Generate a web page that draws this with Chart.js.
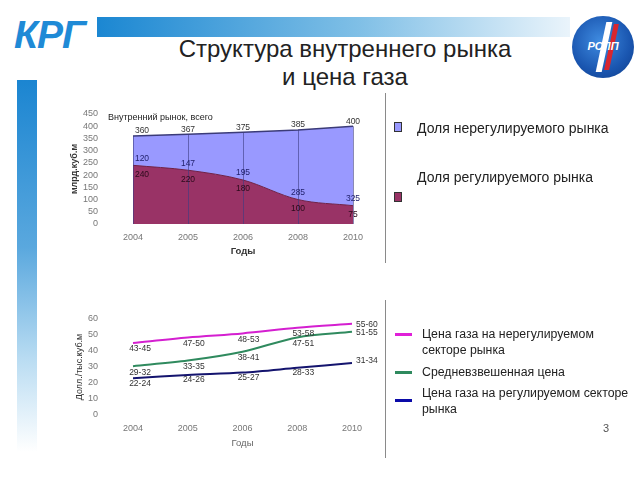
<!DOCTYPE html>
<html>
<head>
<meta charset="utf-8">
<script src="https://cdn.jsdelivr.net/npm/chart.js@4"></script>
<style>
  body { margin:0; background:#fff; font-family:"Liberation Sans", Arial, sans-serif; }
  #page { position:relative; width:640px; height:480px; overflow:hidden; background:#fff; }
  .abs { position:absolute; }
  #logo-text { left:14px; top:13px; font-size:39px; font-weight:bold; font-style:italic; color:#1f8ad6; letter-spacing:-1px; }
  #top-bar { left:97px; top:17px; width:473px; height:20px; background:linear-gradient(to right,#1b87d2,#7fbfe6 55%,#eaf4fb); }
  #side-bar { left:17px; top:80px; width:20px; height:372px; background:linear-gradient(to bottom,#1b85d1,#5aa8de 45%,#b9dcf2 75%,#ffffff); }
  #title { left:120px; top:35px; width:450px; text-align:center; font-size:24px; line-height:28px; color:#222; }
  #rspp { left:572px; top:16px; width:62px; height:62px; border-radius:50%; background:radial-gradient(circle at 45% 40%,#3f8be0,#1a56b0 60%,#0d3a86); overflow:hidden; }
  #rspp .slash-w { position:absolute; left:29px; top:6px; width:6px; height:50px; background:#fff; transform:skewX(-12deg); }
  #rspp .slash-r { position:absolute; left:37px; top:8px; width:5px; height:46px; background:#d9262e; transform:skewX(-12deg); }
  #rspp .txt { position:absolute; left:0; top:24px; width:62px; text-align:center; color:#fff; font-weight:bold; font-style:italic; font-size:11px; }
  .divider { width:1px; background:#8a8a8a; left:385px; }
  .sq { width:6px; height:8px; border:1px solid #333; }
  .lg { font-size:14px; color:#222; white-space:nowrap; }
  .lg2 { font-size:12.3px; color:#222; white-space:nowrap; line-height:16px; }
  .ln { width:17px; height:3px; }
  #sub { left:108px; top:112px; font-size:9px; color:#222; }
  #pagenum { left:603px; top:422px; font-size:11px; color:#555; }
  canvas { position:absolute; }
</style>
</head>
<body>
<div id="page">
  <div id="logo-text" class="abs">КРГ</div>
  <div id="top-bar" class="abs"></div>
  <div id="side-bar" class="abs"></div>
  <div id="title" class="abs">Структура внутреннего рынка<br>и цена газа</div>
  <div id="rspp" class="abs"><div class="slash-w"></div><div class="slash-r"></div><div class="txt">РСПП</div></div>

  <canvas id="volumeChart" width="310" height="160" style="left:60px;top:100px"></canvas>
  <div id="sub" class="abs">Внутренний рынок, всего</div>
  <canvas id="priceChart" width="340" height="150" style="left:60px;top:300px"></canvas>

  <div class="abs divider" style="top:93px;height:170px"></div>
  <div class="abs divider" style="top:300px;height:158px"></div>

  <div class="abs sq" style="left:394px;top:122px;background:#9999ff"></div>
  <div class="abs lg" style="left:417px;top:120px">Доля нерегулируемого рынка</div>
  <div class="abs lg" style="left:417px;top:169px">Доля регулируемого рынка</div>
  <div class="abs sq" style="left:394px;top:192px;background:#993366"></div>

  <div class="abs ln" style="left:395px;top:333px;background:#e020d8"></div>
  <div class="abs lg2" style="left:422px;top:326px">Цена газа на нерегулируемом<br>секторе рынка</div>
  <div class="abs ln" style="left:395px;top:371px;background:#2f8a5e"></div>
  <div class="abs lg2" style="left:422px;top:364px">Средневзвешенная цена</div>
  <div class="abs ln" style="left:395px;top:399px;background:#0a0aa8"></div>
  <div class="abs lg2" style="left:422px;top:385px">Цена газа на регулируемом секторе<br>рынка</div>

  <div id="pagenum" class="abs">3</div>
</div>
<script>
// data
const years = ['2004', '2005', '2006', '2008', '2010'];
const regulatedVolume = [240, 220, 180, 100, 75];
const unregulatedVolume = [120, 147, 195, 285, 325];
const totalVolume = [360, 367, 375, 385, 400];

const unregulatedPrice = [45, 48.5, 51, 54.5, 57];
const averagePrice = [30.5, 34, 39.5, 48.5, 52];
const regulatedPrice = [23, 25, 26.5, 29.5, 32.5];
const unregulatedPriceLabels = ['43-45', '47-50', '48-53', '53-58', '55-60'];
const averagePriceLabels = ['29-32', '33-35', '38-41', '47-51', '51-55'];
const regulatedPriceLabels = ['22-24', '24-26', '25-27', '28-33', '31-34'];

const FONT = '"Liberation Sans", Arial, sans-serif';
Chart.defaults.font.family = FONT;

// writes small value labels next to the points of a dataset
const pointLabels = {
    id: 'pointLabels',
    afterDatasetsDraw(chart, args, opts) {
        const ctx = chart.ctx;
        ctx.save();
        ctx.font = (opts.size || 8) + 'px ' + FONT;
        ctx.textBaseline = 'middle';
        (opts.sets || []).forEach(set => {
            const meta = chart.getDatasetMeta(set.dataset);
            meta.data.forEach((pt, j) => {
                const last = j === meta.data.length - 1;
                let dx = set.dx, dy = set.dy;
                ctx.textAlign = 'center';
                if (j === 0 && set.firstDx !== undefined) dx = set.firstDx;
                if (last && set.lastRight) { ctx.textAlign = 'left'; dx = 4; dy = set.lastDy; }
                ctx.fillStyle = set.color;
                ctx.fillText(set.values[j], pt.x + dx, pt.y + dy);
            });
        });
        ctx.restore();
    }
};

// vertical lines through the area, from the total line down to the axis
const dropLines = {
    id: 'dropLines',
    afterDatasetsDraw(chart, args, opts) {
        if (opts.dataset === undefined) return;
        const ctx = chart.ctx;
        const meta = chart.getDatasetMeta(opts.dataset);
        const bottom = chart.scales.y.getPixelForValue(0);
        ctx.save();
        ctx.strokeStyle = opts.color;
        ctx.lineWidth = 1;
        meta.data.forEach(pt => {
            ctx.beginPath();
            ctx.moveTo(Math.round(pt.x) + 0.5, pt.y);
            ctx.lineTo(Math.round(pt.x) + 0.5, bottom);
            ctx.stroke();
        });
        ctx.restore();
    }
};

// fixed axis boxes, and no extra room asked for by the tick padding
function fixX(h) {
    return s => { s.height = h; s.paddingLeft = 0; s.paddingRight = 0; };
}
function fixY(w) {
    return s => { s.width = w; s.paddingTop = 0; s.paddingBottom = 0; };
}

new Chart(document.getElementById('volumeChart'), {
    type: 'line',
    data: {
        labels: years,
        datasets: [
            {
                label: 'Доля регулируемого рынка',
                data: regulatedVolume,
                fill: 'origin',
                backgroundColor: '#993366',
                borderColor: '#6e2249',
                borderWidth: 1,
                cubicInterpolationMode: 'monotone',
                pointRadius: 0
            },
            {
                label: 'Доля нерегулируемого рынка',
                data: unregulatedVolume,
                fill: '-1',
                backgroundColor: '#9999ff',
                borderColor: '#3b3b78',
                borderWidth: 1.5,
                pointRadius: 0
            }
        ]
    },
    options: {
        responsive: false,
        animation: false,
        devicePixelRatio: 1,
        layout: { padding: { top: 14, right: 17, left: 0, bottom: 0 } },
        plugins: {
            legend: { display: false },
            tooltip: { enabled: false },
            dropLines: { dataset: 1, color: 'rgba(60,60,130,0.6)' },
            pointLabels: {
                size: 8.5,
                sets: [
                    { dataset: 1, values: totalVolume, dx: 0, firstDx: 9, dy: -5, color: '#333' },
                    { dataset: 0, values: unregulatedVolume, dx: 0, firstDx: 9, dy: -7, color: '#22226e' },
                    { dataset: 0, values: regulatedVolume, dx: 0, firstDx: 9, dy: 9, color: '#2a0a1a' }
                ]
            }
        },
        scales: {
            x: {
                grid: { display: false, drawTicks: false },
                border: { display: false },
                ticks: { color: '#777', font: { size: 9 }, padding: 8, maxRotation: 0 },
                title: { display: true, text: 'Годы', color: '#333', font: { size: 9.5, weight: 'bold' }, padding: { top: 0, bottom: 3 } },
                afterFit: fixX(36)
            },
            y: {
                stacked: true,
                min: 0,
                max: 450,
                grid: { display: false, drawTicks: false },
                border: { display: false },
                ticks: { stepSize: 50, autoSkip: false, color: '#777', font: { size: 9 }, padding: 35 },
                title: { display: true, text: 'млрд.куб.м', color: '#333', font: { size: 9, weight: 'bold' }, padding: { top: 9, bottom: 0 } },
                afterFit: fixY(73)
            }
        }
    },
    plugins: [dropLines, pointLabels]
});

new Chart(document.getElementById('priceChart'), {
    type: 'line',
    data: {
        labels: years,
        datasets: [
            {
                label: 'Цена газа на нерегулируемом секторе рынка',
                data: unregulatedPrice,
                borderColor: '#d41fd0',
                borderWidth: 2,
                tension: 0.3,
                pointRadius: 0
            },
            {
                label: 'Средневзвешенная цена',
                data: averagePrice,
                borderColor: '#2f8a5e',
                borderWidth: 2,
                tension: 0.3,
                pointRadius: 0
            },
            {
                label: 'Цена газа на регулируемом секторе рынка',
                data: regulatedPrice,
                borderColor: '#14146e',
                borderWidth: 2,
                tension: 0.3,
                pointRadius: 0
            }
        ]
    },
    options: {
        responsive: false,
        animation: false,
        devicePixelRatio: 1,
        layout: { padding: { top: 19, right: 48, left: 0, bottom: 0 } },
        plugins: {
            legend: { display: false },
            tooltip: { enabled: false },
            pointLabels: {
                size: 8.5,
                sets: [
                    { dataset: 0, values: unregulatedPriceLabels, dx: 6, firstDx: 7, dy: 6, lastRight: true, lastDy: 1, color: '#333' },
                    { dataset: 1, values: averagePriceLabels, dx: 6, firstDx: 7, dy: 6, lastRight: true, lastDy: 1, color: '#333' },
                    { dataset: 2, values: regulatedPriceLabels, dx: 6, firstDx: 7, dy: 5, lastRight: true, lastDy: -2, color: '#333' }
                ]
            }
        },
        scales: {
            x: {
                grid: { display: false, drawTicks: false },
                border: { display: false },
                ticks: { color: '#777', font: { size: 9 }, padding: 8, maxRotation: 0 },
                title: { display: true, text: 'Годы', color: '#666', font: { size: 9.5 }, padding: { top: 0, bottom: 1 } },
                afterFit: fixX(35)
            },
            y: {
                min: 0,
                max: 60,
                grid: { display: false, drawTicks: false },
                border: { display: false },
                ticks: { stepSize: 10, autoSkip: false, color: '#777', font: { size: 9 }, padding: 35 },
                title: { display: true, text: 'Долл./тыс.куб.м', color: '#333', font: { size: 9 }, padding: { top: 14, bottom: 0 } },
                afterFit: fixY(73)
            }
        }
    },
    plugins: [pointLabels]
});
</script>
</body>
</html>
